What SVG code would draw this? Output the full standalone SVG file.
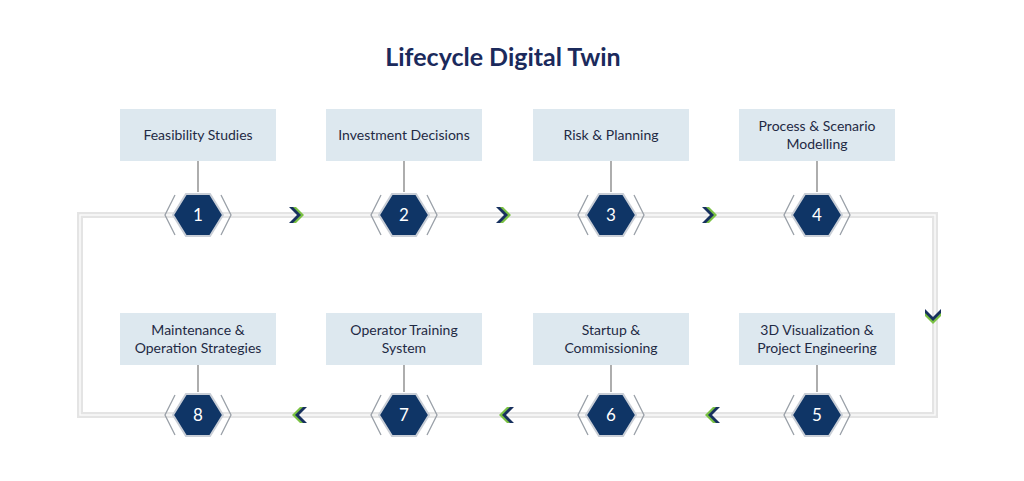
<svg xmlns="http://www.w3.org/2000/svg" width="1024" height="481" viewBox="0 0 1024 481">
<defs>
<style>
.box{fill:#dde8ef}
.lbl{font-family:Lato,"Liberation Sans",sans-serif;font-size:14px;fill:#1f2a44;text-anchor:middle}
.num{font-family:Lato,"Liberation Sans",sans-serif;font-size:17px;fill:#fff;text-anchor:middle}
.stem{stroke:#777;stroke-width:1.2}
.hex{fill:#0f3566;stroke:#c9ced6;stroke-width:2}
.br{fill:none;stroke:#9aa0a8;stroke-width:1.3}
</style>
<g id="chev"><path d="M-6,-8 L2,0 L-6,8 L-2,8 L6,0 L-2,-8Z" fill="#7ac143"/><path d="M-9,-8 L-1,0 L-9,8 L-5,8 L3,0 L-5,-8Z" fill="#17305e"/></g>
<g id="hx"><polygon class="hex" points="-25,0 -12,-21 12,-21 25,0 12,21 -12,21"/><path class="br" d="M-23,-20 L-33,0 L-23,20 M23,-20 L33,0 L23,20"/></g>
</defs>
<rect width="1024" height="481" fill="#fff"/>
<text x="503" y="66" font-family="Lato,'Liberation Sans',sans-serif" font-size="25" font-weight="bold" fill="#1b2a5c" text-anchor="middle">Lifecycle Digital Twin</text>
<g id="connectors">
<rect x="80" y="215" width="855" height="200" fill="none" stroke="#e4e4e4" stroke-width="6"/>
<rect x="80" y="215" width="855" height="200" fill="none" stroke="#fafafa" stroke-width="1.5"/>
<use href="#chev" transform="translate(298,215)"/>
<use href="#chev" transform="translate(505,215)"/>
<use href="#chev" transform="translate(711,215)"/>
<use href="#chev" transform="translate(933,318) rotate(90)"/>
<use href="#chev" transform="translate(711,415) rotate(180)"/>
<use href="#chev" transform="translate(505,415) rotate(180)"/>
<use href="#chev" transform="translate(298,415) rotate(180)"/>
</g>
<g id="n1"><rect class="box" x="120" y="109" width="156" height="52"/><text class="lbl" x="198" y="140">Feasibility Studies</text><line class="stem" x1="198" y1="161" x2="198" y2="192"/><use href="#hx" transform="translate(198,215)"/><text class="num" x="198" y="221">1</text></g>
<g id="n2"><rect class="box" x="326" y="109" width="156" height="52"/><text class="lbl" x="404" y="140">Investment Decisions</text><line class="stem" x1="404" y1="161" x2="404" y2="192"/><use href="#hx" transform="translate(404,215)"/><text class="num" x="404" y="221">2</text></g>
<g id="n3"><rect class="box" x="533" y="109" width="156" height="52"/><text class="lbl" x="611" y="140">Risk &amp; Planning</text><line class="stem" x1="611" y1="161" x2="611" y2="192"/><use href="#hx" transform="translate(611,215)"/><text class="num" x="611" y="221">3</text></g>
<g id="n4"><rect class="box" x="739" y="109" width="156" height="52"/><text class="lbl" x="817" y="131">Process &amp; Scenario</text><text class="lbl" x="817" y="149">Modelling</text><line class="stem" x1="817" y1="161" x2="817" y2="192"/><use href="#hx" transform="translate(817,215)"/><text class="num" x="817" y="221">4</text></g>
<g id="n5"><rect class="box" x="739" y="313" width="156" height="52"/><text class="lbl" x="817" y="335">3D Visualization &amp;</text><text class="lbl" x="817" y="353">Project Engineering</text><line class="stem" x1="817" y1="365" x2="817" y2="392"/><use href="#hx" transform="translate(817,415)"/><text class="num" x="817" y="421">5</text></g>
<g id="n6"><rect class="box" x="533" y="313" width="156" height="52"/><text class="lbl" x="611" y="335">Startup &amp;</text><text class="lbl" x="611" y="353">Commissioning</text><line class="stem" x1="611" y1="365" x2="611" y2="392"/><use href="#hx" transform="translate(611,415)"/><text class="num" x="611" y="421">6</text></g>
<g id="n7"><rect class="box" x="326" y="313" width="156" height="52"/><text class="lbl" x="404" y="335">Operator Training</text><text class="lbl" x="404" y="353">System</text><line class="stem" x1="404" y1="365" x2="404" y2="392"/><use href="#hx" transform="translate(404,415)"/><text class="num" x="404" y="421">7</text></g>
<g id="n8"><rect class="box" x="120" y="313" width="156" height="52"/><text class="lbl" x="198" y="335">Maintenance &amp;</text><text class="lbl" x="198" y="353">Operation Strategies</text><line class="stem" x1="198" y1="365" x2="198" y2="392"/><use href="#hx" transform="translate(198,415)"/><text class="num" x="198" y="421">8</text></g>
</svg>
